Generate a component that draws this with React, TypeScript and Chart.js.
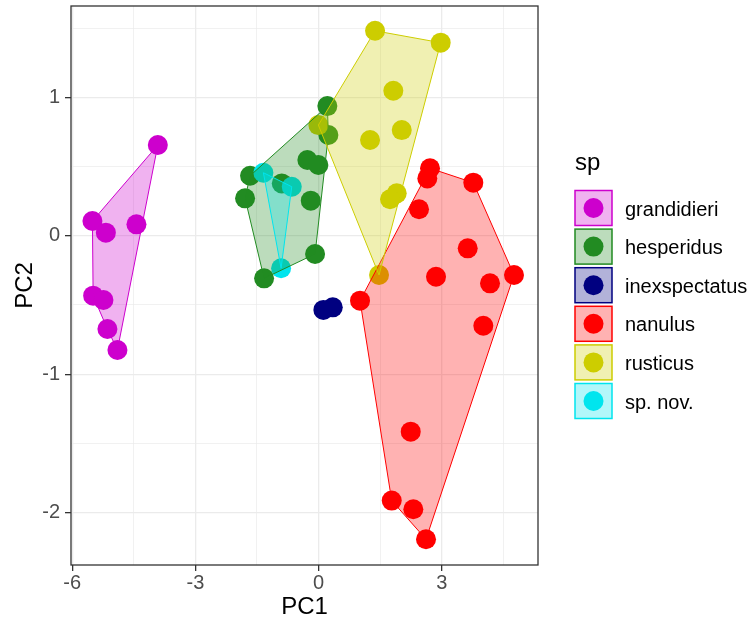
import React, { useEffect, useRef } from "react";
import { Chart, registerables } from "chart.js";

Chart.register(...registerables);

// ---------- data ----------
const species = ["grandidieri", "hesperidus", "inexspectatus", "nanulus", "rusticus", "sp. nov."];
const speciesColors = ["#CD00CD", "#228B22", "#000080", "#FF0000", "#CDCD00", "#00E5EE"];

const grandidieriPC1 = [-3.915, -5.508, -5.181, -4.436, -5.491, -5.24, -5.143, -4.899];
const grandidieriPC2 = [0.655, 0.106, 0.022, 0.082, -0.433, -0.464, -0.674, -0.825];

const hesperidusPC1 = [0.214, 0.239, -0.273, -0.005, -1.668, -1.79, -0.19, -0.896, -0.085, -1.327];
const hesperidusPC2 = [0.936, 0.727, 0.547, 0.511, 0.433, 0.27, 0.253, 0.378, -0.132, -0.308];

const inexspectatusPC1 = [0.117, 0.346];
const inexspectatusPC2 = [-0.536, -0.517];

const nanulusPC1 = [2.715, 2.649, 3.769, 2.447, 3.633, 4.76, 2.861, 4.176, 1.01, 4.013, 2.245, 1.782, 2.308, 2.617];
const nanulusPC2 = [0.487, 0.414, 0.383, 0.191, -0.091, -0.284, -0.296, -0.344, -0.469, -0.65, -1.415, -1.913, -1.975, -2.192];

const rusticusPC1 = [1.376, 2.975, 1.821, 2.026, 1.254, 1.904, 1.741, 1.473, -0.005];
const rusticusPC2 = [1.48, 1.394, 1.047, 0.763, 0.691, 0.306, 0.263, -0.284, 0.799];

const spNovPC1 = [-1.344, -0.653, -0.913];
const spNovPC2 = [0.455, 0.354, -0.235];

const xMajorTicks = [-6, -3, 0, 3];
const xMinorTicks = [-4.5, -1.5, 1.5, 4.5];
const yMajorTicks = [-2, -1, 0, 1];
const yMinorTicks = [-1.5, -0.5, 0.5, 1.5];

const xLimits = [-6.03, 5.345];
const yLimits = [-2.378, 1.659];

const xTitle = "PC1";
const yTitle = "PC2";
const legendTitle = "sp";

// ---------- helpers ----------
const seriesPC1 = [grandidieriPC1, hesperidusPC1, inexspectatusPC1, nanulusPC1, rusticusPC1, spNovPC1];
const seriesPC2 = [grandidieriPC2, hesperidusPC2, inexspectatusPC2, nanulusPC2, rusticusPC2, spNovPC2];

type P = { x: number; y: number };

function convexHull(points: P[]): P[] {
  const pts = points.slice().sort((a, b) => (a.x === b.x ? a.y - b.y : a.x - b.x));
  if (pts.length < 3) return pts.concat(pts.length ? [pts[0]] : []);
  const cross = (o: P, a: P, b: P) => (a.x - o.x) * (b.y - o.y) - (a.y - o.y) * (b.x - o.x);
  const lower: P[] = [];
  for (const p of pts) {
    while (lower.length >= 2 && cross(lower[lower.length - 2], lower[lower.length - 1], p) <= 0) lower.pop();
    lower.push(p);
  }
  const upper: P[] = [];
  for (let i = pts.length - 1; i >= 0; i--) {
    const p = pts[i];
    while (upper.length >= 2 && cross(upper[upper.length - 2], upper[upper.length - 1], p) <= 0) upper.pop();
    upper.push(p);
  }
  lower.pop();
  upper.pop();
  const h = lower.concat(upper);
  h.push(h[0]);
  return h;
}

function rgba(hex: string, a: number) {
  const n = parseInt(hex.slice(1), 16);
  return `rgba(${(n >> 16) & 255},${(n >> 8) & 255},${n & 255},${a})`;
}

const FONT = "'Liberation Sans', Arial, Helvetica, sans-serif";

const panelBorder = {
  id: "panelBorder",
  afterDatasetsDraw(chart: any) {
    const { ctx, chartArea } = chart;
    ctx.save();
    ctx.strokeStyle = "#333333";
    ctx.lineWidth = 1.3;
    ctx.strokeRect(chartArea.left, chartArea.top, chartArea.right - chartArea.left, chartArea.bottom - chartArea.top);
    ctx.restore();
  },
};

const ggLegend = {
  id: "ggLegend",
  afterDraw(chart: any) {
    const { ctx } = chart;
    ctx.save();
    ctx.fillStyle = "#000000";
    ctx.font = `24px ${FONT}`;
    ctx.textBaseline = "alphabetic";
    ctx.textAlign = "left";
    ctx.fillText(legendTitle, 575, 170);
    const left = 575;
    const w = 37;
    const h = 35;
    species.forEach((name, i) => {
      const top = 190.5 + i * 38.6;
      ctx.fillStyle = rgba(speciesColors[i], 0.3);
      ctx.fillRect(left, top, w, h);
      ctx.strokeStyle = speciesColors[i];
      ctx.lineWidth = 1.5;
      ctx.strokeRect(left, top, w, h);
      ctx.beginPath();
      ctx.fillStyle = speciesColors[i];
      ctx.arc(left + w / 2, top + h / 2, 10, 0, Math.PI * 2);
      ctx.fill();
      ctx.fillStyle = "#000000";
      ctx.font = `20px ${FONT}`;
      ctx.textBaseline = "middle";
      ctx.fillText(name, 625, top + h / 2 + 2);
    });
    ctx.restore();
  },
};

export default function App() {
  const ref = useRef<HTMLCanvasElement | null>(null);
  useEffect(() => {
    if (!ref.current) return;
    const datasets: any[] = [];
    species.forEach((name, i) => {
      const pts: P[] = seriesPC1[i].map((x, j) => ({ x, y: seriesPC2[i][j] }));
      datasets.push({
        type: "line",
        label: name + " hull",
        data: convexHull(pts),
        borderColor: speciesColors[i],
        backgroundColor: rgba(speciesColors[i], 0.3),
        borderWidth: 1,
        pointRadius: 0,
        pointHoverRadius: 0,
        tension: 0,
        fill: "shape",
        order: 10 - i,
      });
      datasets.push({
        type: "scatter",
        label: name,
        data: pts,
        backgroundColor: speciesColors[i],
        borderWidth: 0,
        pointRadius: 10,
        pointHoverRadius: 10,
        order: 20 - i,
      });
    });

    const isMajorX = (v: number) => xMajorTicks.includes(v);
    const isMajorY = (v: number) => yMajorTicks.includes(v);

    const chart = new Chart(ref.current, {
      type: "scatter",
      data: { datasets },
      plugins: [panelBorder, ggLegend],
      options: {
        responsive: false,
        animation: false,
        devicePixelRatio: 1,
        events: [],
        layout: { autoPadding: false, padding: { left: 0, top: 6, right: 218, bottom: 0 } },
        plugins: { legend: { display: false }, tooltip: { enabled: false } },
        scales: {
          x: {
            type: "linear",
            min: xLimits[0],
            max: xLimits[1],
            afterBuildTicks: (s: any) => {
              s.ticks = [...xMajorTicks, ...xMinorTicks].sort((a, b) => a - b).map((v) => ({ value: v }));
            },
            afterFit: (s: any) => {
              s.height = 67;
              s.paddingLeft = 0;
              s.paddingRight = 0;
            },
            ticks: {
              autoSkip: false,
              maxRotation: 0,
              padding: 0,
              color: "#4D4D4D",
              font: { family: FONT, size: 20 },
              callback: (v: any) => (isMajorX(Number(v)) ? String(v) : ""),
            },
            grid: {
              color: "#EBEBEB",
              lineWidth: (c: any) => (c.tick && isMajorX(c.tick.value) ? 1.3 : 0.7),
              tickColor: (c: any) => (c.tick && isMajorX(c.tick.value) ? "#333333" : "rgba(0,0,0,0)"),
              tickLength: 6,
              tickWidth: 1.3,
            },
            border: { display: false },
            title: {
              display: true,
              text: xTitle,
              color: "#000000",
              font: { family: FONT, size: 24 },
              padding: { top: 0, bottom: 10.6 },
            },
          },
          y: {
            type: "linear",
            min: yLimits[0],
            max: yLimits[1],
            afterBuildTicks: (s: any) => {
              s.ticks = [...yMajorTicks, ...yMinorTicks].sort((a, b) => a - b).map((v) => ({ value: v }));
            },
            afterFit: (s: any) => {
              s.width = 71;
              s.paddingTop = 0;
              s.paddingBottom = 0;
            },
            ticks: {
              autoSkip: false,
              padding: 5,
              color: "#4D4D4D",
              font: { family: FONT, size: 20 },
              callback: (v: any) => (isMajorY(Number(v)) ? String(v) : ""),
            },
            grid: {
              color: "#EBEBEB",
              lineWidth: (c: any) => (c.tick && isMajorY(c.tick.value) ? 1.3 : 0.7),
              tickColor: (c: any) => (c.tick && isMajorY(c.tick.value) ? "#333333" : "rgba(0,0,0,0)"),
              tickLength: 6,
              tickWidth: 1.3,
            },
            border: { display: false },
            title: {
              display: true,
              text: yTitle,
              color: "#000000",
              font: { family: FONT, size: 24 },
              padding: { top: 10.6, bottom: 0 },
            },
          },
        },
      },
    });
    return () => chart.destroy();
  }, []);

  return (
    <div style={{ position: "absolute", left: 0, top: 0, width: 756, height: 632, background: "#FFFFFF" }}>
      <canvas ref={ref} width={756} height={632} style={{ display: "block" }} />
    </div>
  );
}
